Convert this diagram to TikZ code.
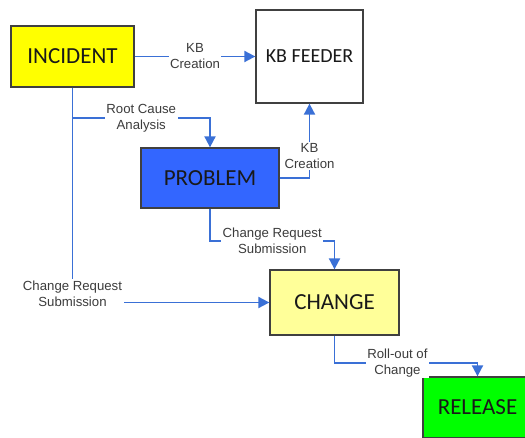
\documentclass[tikz,border=0pt]{standalone}
\usepackage{fontspec}
\setmainfont{Carlito}
\newfontfamily\labelfont{Liberation Sans}
\usetikzlibrary{arrows.meta}
\definecolor{flow}{RGB}{58,112,214}
\definecolor{boxedge}{RGB}{64,64,64}
\definecolor{tagtext}{RGB}{60,60,60}
\definecolor{incfill}{RGB}{255,255,0}
\definecolor{probfill}{RGB}{51,102,255}
\definecolor{chgfill}{RGB}{255,255,153}
\definecolor{relfill}{RGB}{0,255,0}
\begin{document}
\begin{tikzpicture}[x=1pt,y=-1pt,
  box/.style={draw=boxedge, line width=1.3pt, inner sep=0pt,
    font=\fontsize{23}{27}\selectfont, text={black!90}},
  link/.style={draw=flow, line width=1.9pt,
    -{Triangle[length=11pt,width=11pt]}},
  tag/.style={fill=white, inner sep=1.5pt, align=center, text=tagtext,
    font=\labelfont\fontsize{13.2}{16}\selectfont}]
\useasboundingbox (0,0) rectangle (525,438);
\clip (0,0) rectangle (525,438);

% process boxes
\node[box, fill=incfill, minimum width=123pt, minimum height=61pt] (inc) at (72.5,56.5) {INCIDENT};
\node[box, fill=white, minimum width=107pt, minimum height=93pt, font=\fontsize{20}{24}\selectfont] (kb) at (309.5,56.5) {KB FEEDER};
\node[box, fill=probfill, minimum width=138pt, minimum height=60pt] (prob) at (210,178) {PROBLEM};
\node[box, fill=chgfill, minimum width=129pt, minimum height=65pt] (chg) at (334.5,302.5) {CHANGE};
\node[box, fill=relfill, minimum width=109pt, minimum height=61pt] (rel) at (477.5,407.5) {RELEASE};

% branch point for root cause analysis
\path (inc.south) ++(0,30.5) coordinate (rcfork);

% flows
\draw[link] (inc) -- node[tag]{KB\\Creation} (kb);
\draw[link] (inc.south) |- node[tag, pos=0.5, yshift=9pt]{Change Request\\Submission} (chg.west);
\draw[link] (rcfork) -| node[tag, pos=0.25]{Root Cause\\Analysis} (prob.north);
\draw[link] (prob.east) -| node[tag, pos=0.65]{KB\\Creation} (kb.south);
\draw[link] (prob.south) -- ++(0,32) -| node[tag, pos=0.25]{Change Request\\Submission} (chg.north);
\draw[link] (chg.south) -- ++(0,27) -| node[tag, pos=0.22]{Roll-out of\\Change} (rel.north);
\end{tikzpicture}
\end{document}
